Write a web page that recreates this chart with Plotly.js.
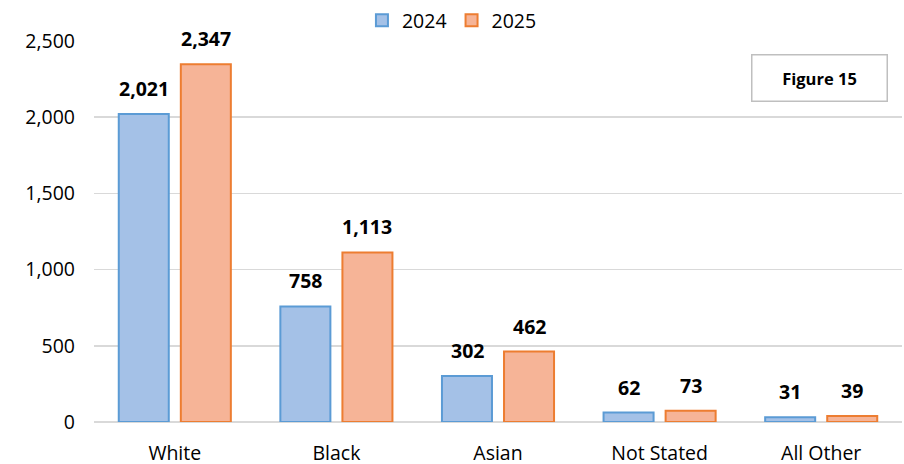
<!DOCTYPE html>
<html><head><meta charset="utf-8">
<script src="https://cdn.plot.ly/plotly-3.0.1.min.js"></script>
<style>html,body{margin:0;padding:0;background:#fff;}#c{width:904px;height:464px;}</style>
</head><body><div id="c"></div>
<script>
const categories = ["White", "Black", "Asian", "Not Stated", "All Other"];
const values2024 = [2021, 758, 302, 62, 31];
const values2025 = [2347, 1113, 462, 73, 39];
const yTicks = [0, 500, 1000, 1500, 2000, 2500];
const FONT = "'Open Sans', 'Noto Sans', sans-serif";

const traces = [
  {type: "bar", name: "2024", x: categories, y: values2024,
   marker: {color: "#A4C1E7", line: {color: "#5B9BD5", width: 2}}, hoverinfo: "none"},
  {type: "bar", name: "2025", x: categories, y: values2025,
   marker: {color: "#F6B497", line: {color: "#ED7D31", width: 2}}, hoverinfo: "none"}
];

const annotations = [];
categories.forEach((c, i) => {
  [[values2024, -31], [values2025, 31]].forEach(([arr, dx]) => {
    annotations.push({x: c, y: arr[i], xref: "x", yref: "y", xshift: dx, yshift: 10,
      yanchor: "bottom", showarrow: false,
      text: "<b>" + arr[i].toLocaleString("en-US") + "</b>",
      font: {family: FONT, size: 19.5, color: "#000"}});
  });
});
annotations.push({xref: "paper", yref: "paper", x: 0.898, y: 0.903, xanchor: "center", yanchor: "middle",
  showarrow: false, text: "<b>Figure 15</b>", font: {family: FONT, size: 16.5, color: "#000"},
  bordercolor: "#BFBFBF", borderwidth: 1.5, borderpad: 11, width: 112, bgcolor: "#fff"});

const layout = {
  width: 904, height: 464,
  margin: {l: 94, r: 2, t: 40, b: 42},
  paper_bgcolor: "#fff", plot_bgcolor: "#fff",
  font: {family: FONT, size: 19.5, color: "#000"},
  barmode: "group", bargap: 0.232, bargroupgap: 0.194,
  showlegend: true,
  legend: {orientation: "h", xref: "paper", x: 0.443, xanchor: "center", y: 1.0, yanchor: "bottom",
    font: {family: FONT, size: 19.5}, itemwidth: 30, traceorder: "normal", tracegroupgap: 0},
  xaxis: {type: "category", showgrid: false, showline: false, ticks: "", ticklabelstandoff: 17,
    tickfont: {family: FONT, size: 19.5}, fixedrange: true},
  yaxis: {range: [0, 2500], tickvals: yTicks, tickformat: ",d", showgrid: true, gridcolor: "#D9D9D9", gridwidth: 1.5,
    zeroline: true, zerolinecolor: "#D9D9D9", zerolinewidth: 1.5, showline: false, ticks: "",
    ticklabelstandoff: 18, tickfont: {family: FONT, size: 19.5}, fixedrange: true},
  annotations: annotations
};
Plotly.newPlot("c", traces, layout, {displayModeBar: false, staticPlot: true});
</script></body></html>
